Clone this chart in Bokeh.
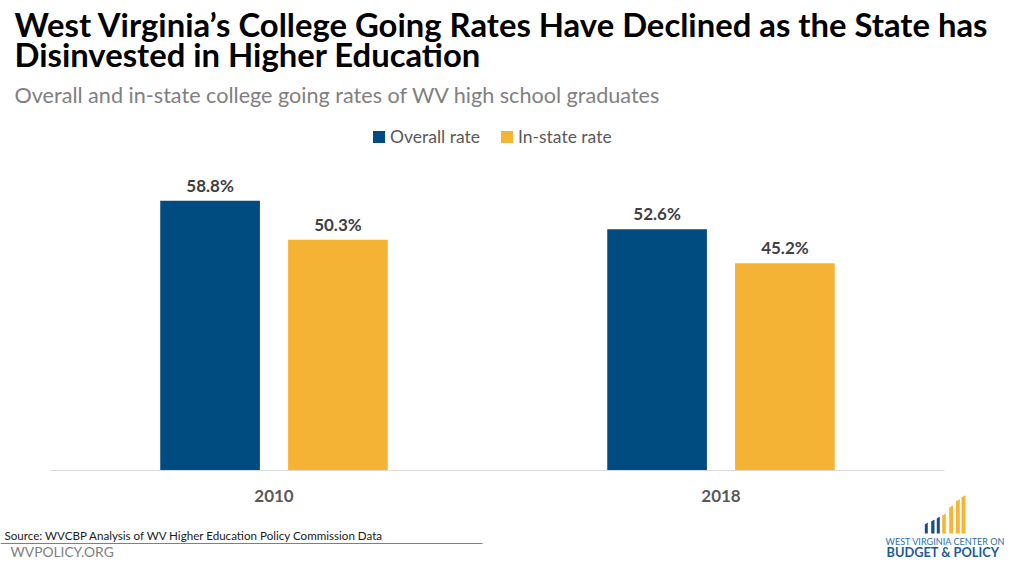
from bokeh.plotting import figure
from bokeh.models import (ColumnDataSource, LabelSet, Legend, LegendItem,
                          PolyAnnotation, Range1d)
from bokeh.transform import dodge
from bokeh.core.properties import value
from bokeh.embed import file_html
from bokeh.resources import INLINE

# ---- data ----
years = ["2010", "2018"]
overall_rate = [58.8, 52.6]
instate_rate = [50.3, 45.2]
series_names = ["Overall rate", "In-state rate"]

BLUE = "#004B80"
ORANGE = "#F5B335"
FONT = "Lato"

W, H = 1008, 560
# plot geometry (pixels)
AX_LEFT, AX_RIGHT, BASE_Y = 50, 944, 470
PX_PER_PCT = 4.586
n = len(years)
unit = (AX_RIGHT - AX_LEFT) / n

xpos = list(range(n))
src = ColumnDataSource(dict(
    x=xpos,
    year=years,
    zero=[0] * n,
    overall=overall_rate,
    instate=instate_rate,
    overall_lbl=[f"{v:.1f}%" for v in overall_rate],
    instate_lbl=[f"{v:.1f}%" for v in instate_rate],
))

x_range = Range1d(-0.5 - AX_LEFT / unit, n - 0.5 + (W - AX_RIGHT) / unit)
y_range = Range1d(-(H - BASE_Y) / PX_PER_PCT, BASE_Y / PX_PER_PCT)

p = figure(x_range=x_range, y_range=y_range, width=W, height=H,
           output_backend="svg", toolbar_location=None,
           x_axis_location=None, y_axis_location=None, min_border=0)
p.outline_line_color = None
p.grid.visible = False
p.background_fill_color = "white"
p.border_fill_color = "white"

OFF = 0.143
BW = 0.223
r1 = p.vbar(x=dodge('x', -OFF), top='overall', width=BW,
            source=src, fill_color=BLUE, line_color=None)
r2 = p.vbar(x=dodge('x', OFF), top='instate', width=BW,
            source=src, fill_color=ORANGE, line_color=None)

# category axis line
p.segment(x0=-0.5, y0=0, x1=n - 0.5, y1=0, line_color="#d9d9d9", line_width=1)

# value labels
for xo, col in ((-OFF, 'overall'), (OFF, 'instate')):
    p.add_layout(LabelSet(x=dodge('x', xo), y=col, text=col + '_lbl',
                          source=src, text_align='center', text_baseline='alphabetic',
                          y_offset=9, text_font=value(FONT), text_font_style='bold',
                          text_font_size='17px', text_color='#404040'))

# category labels
p.add_layout(LabelSet(x='x', y='zero', text='year', source=src, text_align='center',
                      text_baseline='alphabetic', y_offset=-31, text_font=value(FONT),
                      text_font_style='bold', text_font_size='17px', text_color='#595959'))

legend = Legend(items=[LegendItem(label=series_names[0], renderers=[r1]),
                       LegendItem(label=series_names[1], renderers=[r2])],
                orientation="horizontal", location=(371, 413),
                border_line_color=None, background_fill_alpha=0,
                padding=0, margin=0, spacing=19, glyph_width=15, glyph_height=15,
                label_standoff=4, label_text_font=FONT, label_text_font_size="17.5px",
                label_text_color="#595959")
p.add_layout(legend)


def text(t, px, py, size, color, style="normal"):
    s = ColumnDataSource(dict(x=[px], y=[H - py], t=[t]))
    p.add_layout(LabelSet(x='x', y='y', text='t', source=s, x_units="screen", y_units="screen",
                          text_font=value(FONT), text_font_size=f"{size}px", text_color=color,
                          text_font_style=style, text_align="left", text_baseline="alphabetic"))


def rect(x0, x1, y_top, y_bot, color, slant=0.0):
    p.add_layout(PolyAnnotation(xs=[x0, x1, x1, x0],
                                ys=[H - y_bot, H - y_bot, H - (y_top - slant), H - y_top],
                                xs_units="screen", ys_units="screen",
                                fill_color=color, fill_alpha=1, line_color=None))


text("West Virginia\u2019s College Going Rates Have Declined as the State has", 14, 36, 32.8, "#000000", "bold")
text("Disinvested in Higher Education", 14, 66, 32.8, "#000000", "bold")
text("Overall and in-state college going rates of WV high school graduates", 14, 102, 21.6, "#808080")

# footer
text("Source: WVCBP Analysis of WV Higher Education Policy Commission Data", 4, 539, 11.6, "#1a1a1a")
rect(0, 482, 542.5, 543.5, "#7f7f7f")
text("WVPOLICY.ORG", 10, 556, 13.8, "#808080")

LOGO_BLUE = "#1d4f7c"
LOGO_ORANGE = "#f6b534"
logo_bars = [(924.3, 927.3, 524, LOGO_BLUE), (930.7, 934.0, 521, LOGO_BLUE),
             (936.3, 939.3, 518, LOGO_BLUE), (941.7, 945.3, 515, LOGO_ORANGE),
             (948.7, 952.7, 507, LOGO_ORANGE), (955.3, 959.3, 500.7, LOGO_ORANGE),
             (961.0, 965.0, 496.7, LOGO_ORANGE)]
for x0, x1, top, c in logo_bars:
    rect(x0, x1, top, 533, c, slant=2)
text("WEST VIRGINIA CENTER ON", 885, 544, 9.1, "#2e6fa7")
text("BUDGET & POLICY", 886, 556, 12.8, "#1f5a94", "bold")

open("out.html", "w").write(file_html(p, INLINE))
